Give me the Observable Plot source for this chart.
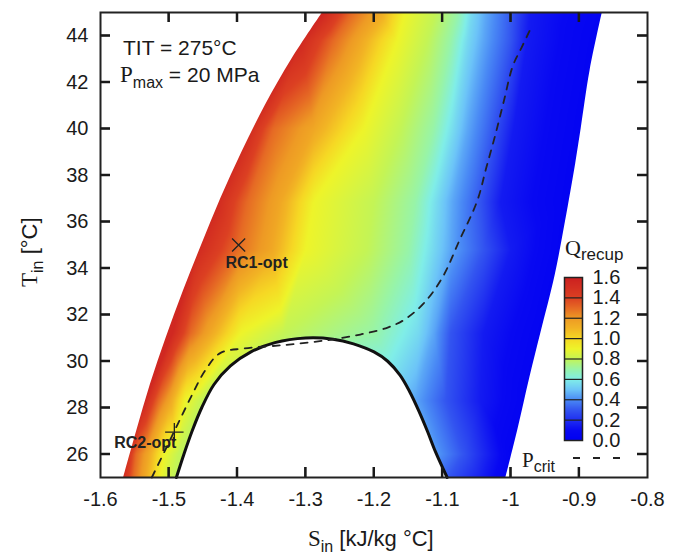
<!DOCTYPE html>
<html><head><meta charset="utf-8">
<script src="https://cdn.jsdelivr.net/npm/d3@7"></script>
<script src="https://cdn.jsdelivr.net/npm/@observablehq/plot@0.6"></script>
<style>
body{margin:0;background:#fff}
#wrap{position:relative;width:688px;height:554px;font-family:"Liberation Sans",Arial,sans-serif}
#wrap svg{position:absolute}
</style>
</head><body><div id="wrap"></div>
<script>
// ---- axes
const S_LO = -1.6, S_HI = -0.8, T_LO = 25, T_HI = 45;
const xTickLabels = [-1.6, -1.5, -1.4, -1.3, -1.2, -1.1, -1.0, -0.9, -0.8];
const xTickMarks = [-1.5, -1.4, -1.3, -1.2, -1.1, -1.0, -0.9];
const yTicks = [26, 28, 30, 32, 34, 36, 38, 40, 42, 44];

// ---- colour scale (Q_recup)
const cDomain = [0, 0.1, 0.2, 0.3, 0.4, 0.5, 0.6, 0.7, 0.8, 0.9, 1.0, 1.1, 1.2, 1.3, 1.4, 1.6];
const cRange = ["#0000f2", "#0808f2", "#1f2ef0", "#3355f0", "#4a8af5", "#6cc4f8", "#80eee8", "#98f4a8",
                "#c4f456", "#eef42a", "#f6d824", "#f2b424", "#ee9a24", "#e66a24", "#dc4022", "#cc2020"];
const legendLevels = [0, 0.2, 0.4, 0.6, 0.8, 1.0, 1.2, 1.4, 1.6];

// ---- Q field, read along rows of constant T
const qLevels = [1.55, 1.3, 1.15, 0.9, 0.8, 0.7, 0.55, 0.45, 0.3, 0.15, 0.05];
const rowT = [25, 26, 28.3, 31.2, 34.8, 36.85, 40, 43.8, 45];
const rowS = [
  [-1.568, -1.552, -1.535, -1.512, -1.494, null, null, null, -1.09, -1.04, -1.007],
  [-1.563, -1.548, -1.53, -1.507, -1.486, null, null, -1.115, -1.07, -1.03, -1.0],
  [-1.535, -1.515, -1.498, -1.476, -1.452, null, null, -1.14, -1.095, -1.045, -0.978],
  [-1.495, -1.468, -1.44, -1.395, -1.332, -1.20, -1.135, -1.113, -1.088, -1.04, -0.956],
  [-1.461, -1.40, -1.35, -1.30, -1.21, -1.15, -1.113, -1.088, -1.04, -1.0, -0.927],
  [-1.432, -1.385, -1.337, -1.288, -1.20, -1.14, -1.107, -1.085, -1.045, -1.015, -0.92],
  [-1.385, -1.347, -1.288, -1.215, -1.161, -1.113, -1.083, -1.063, -1.025, -0.996, -0.902],
  [-1.307, -1.259, -1.22, -1.166, -1.122, -1.088, -1.063, -1.04, -1.0, -0.976, -0.879],
  [-1.272, -1.232, -1.192, -1.155, -1.11, -1.078, -1.057, -1.036, -0.998, -0.972, -0.866]
];

// ---- region boundaries
const leftT = [25, 27, 29, 31, 33, 35, 37, 39, 41, 43, 45];
const leftS = [-1.566, -1.547, -1.527, -1.504, -1.479, -1.452, -1.424, -1.393, -1.359, -1.320, -1.275];
const rightT = [25, 27, 29.3, 31.2, 33.7, 36, 38.5, 40, 42.5, 45];
const rightS = [-1.007, -0.99, -0.972, -0.956, -0.935, -0.92, -0.905, -0.897, -0.884, -0.866];

// ---- saturation dome
const domeS = [-1.489, -1.478, -1.466, -1.452, -1.434, -1.41, -1.38, -1.345, -1.30, -1.26, -1.23, -1.20, -1.18, -1.162, -1.148, -1.135, -1.122, -1.11, -1.093];
const domeT = [25, 26, 27, 28, 29, 29.8, 30.4, 30.8, 31.0, 30.95, 30.75, 30.4, 30.0, 29.4, 28.7, 27.9, 27.0, 26.1, 25];

// ---- P_crit (dashed)
const pcS = [-1.525, -1.505, -1.487, -1.467, -1.447, -1.425, -1.39, -1.33, -1.27, -1.22, -1.18, -1.155, -1.127, -1.10, -1.075, -1.049, -1.036, -1.022, -1.01, -0.997, -0.984, -0.971];
const pcT = [25, 26.2, 27.3, 28.5, 29.6, 30.35, 30.55, 30.7, 30.9, 31.15, 31.45, 31.8, 32.5, 33.6, 35.2, 36.9, 38.3, 39.8, 41.2, 42.7, 43.5, 44.3];

// ---- optimum points
const rcNames = ["RC1-opt", "RC2-opt"];
const rcS = [-1.398, -1.492];
const rcT = [35.0, 26.95];

// ---------- build tables
const field = [];
rowT.forEach((t, i) => rowS[i].forEach((s, j) => { if (s !== null) field.push({S: s, T: t, Q: qLevels[j]}); }));
const leftB = leftT.map((t, i) => ({T: t, S: leftS[i]}));
const rightB = rightT.map((t, i) => ({T: t, S: rightS[i]}));
const dome = domeS.map((s, i) => ({S: s, T: domeT[i]}));
const pcrit = pcS.map((s, i) => ({S: s, T: pcT[i]}));
const rc = rcNames.map((n, i) => ({name: n, S: rcS[i], T: rcT[i]}));

const FONT = '"Liberation Sans", Arial, sans-serif';
const SERIF = '"Liberation Serif", "Times New Roman", serif';
const color = {type: "linear", domain: cDomain, range: cRange, interpolate: "rgb", clamp: true};
const fmt = d => String(+d.toFixed(1));

const W = 688, H = 554, ML = 100, MR = 41, MT = 12, MB = 77, TICK = 10;
const FW = W - ML - MR, FH = H - MT - MB;
const tk = {stroke: "#1a1a1a", strokeWidth: 2};
const base = {
  width: W, height: H,
  marginLeft: ML, marginRight: MR, marginTop: MT, marginBottom: MB,
  x: {domain: [S_LO, S_HI], axis: null},
  y: {domain: [T_LO, T_HI], axis: null}
};

// field layer
const chart = Plot.plot({
  ...base,
  color,
  style: {fontFamily: FONT, fontSize: "20px", color: "#1a1a1a", background: "#fff"},
  marks: [
    Plot.raster(field, {x: "S", y: "T", fill: "Q", interpolate: "barycentric"}),
    Plot.areaX(leftB, {y: "T", x1: () => S_LO, x2: "S", fill: "white", curve: "catmull-rom"}),
    Plot.areaX(rightB, {y: "T", x1: "S", x2: () => S_HI, fill: "white", curve: "catmull-rom"}),
    Plot.areaY(dome, {x: "S", y1: () => T_LO, y2: "T", fill: "white", curve: "catmull-rom"}),
    Plot.line(dome, {x: "S", y: "T", stroke: "#111", strokeWidth: 3, curve: "catmull-rom"}),
    Plot.line(pcrit, {x: "S", y: "T", stroke: "#222", strokeWidth: 1.8, strokeDasharray: "7,7", curve: "catmull-rom"}),
    Plot.dot([rc[0]], {x: "S", y: "T", symbol: "times", r: 6, stroke: "#222", strokeWidth: 1.3}),
    Plot.dot([rc[1]], {x: "S", y: "T", symbol: "plus", r: 6, stroke: "#222", strokeWidth: 1.3}),
    Plot.text([rc[0]], {x: "S", y: "T", text: "name", dx: 18, dy: 18, fontSize: 16, fontWeight: "bold", fill: "#222"}),
    Plot.text([rc[1]], {x: "S", y: "T", text: "name", dx: -29, dy: 11, fontSize: 16, fontWeight: "bold", fill: "#222"})
  ]
});

// axes layer (on top)
const axes = Plot.plot({
  ...base,
  style: {fontFamily: FONT, fontSize: "20px", color: "#1a1a1a", background: "transparent"},
  marks: [
    Plot.ruleX(xTickMarks, {insetTop: FH - TICK, ...tk}),
    Plot.ruleX(xTickMarks, {insetBottom: FH - TICK, ...tk}),
    Plot.ruleY(yTicks, {insetRight: FW - TICK, ...tk}),
    Plot.ruleY(yTicks, {insetLeft: FW - TICK, ...tk}),
    Plot.axisX(xTickLabels, {anchor: "bottom", tickSize: 0, tickPadding: 14, tickFormat: fmt, label: null}),
    Plot.axisY(yTicks, {anchor: "left", tickSize: 0, tickPadding: 12, label: null}),
    Plot.frame({stroke: "#222", strokeWidth: 2})
  ]
});

const legend = Plot.plot({
  width: 110, height: 200,
  marginLeft: 20, marginRight: 72, marginTop: 20, marginBottom: 17,
  x: {domain: [0, 1], axis: null},
  y: {domain: [0, 1.6], axis: null},
  color,
  style: {fontFamily: FONT, fontSize: "20px", color: "#1a1a1a", background: "transparent", overflow: "visible"},
  marks: [
    Plot.raster({x1: 0, x2: 1, y1: 0, y2: 1.6, fill: (x, y) => y}),
    Plot.ruleY(legendLevels.slice(1, -1), {stroke: "#222", strokeWidth: 1.2}),
    Plot.frame({stroke: "#222", strokeWidth: 1.5}),
    Plot.axisY(legendLevels, {anchor: "right", tickSize: 0, tickPadding: 10, tickFormat: d => d.toFixed(1), label: null})
  ]
});

const wrap = document.getElementById("wrap");
for (const el of [chart, axes]) { el.style.left = "0px"; el.style.top = "0px"; wrap.appendChild(el); }
legend.style.left = "544px"; legend.style.top = "257px";
wrap.appendChild(legend);

// ---------- inward tick marks placed through Plot's own scales
const svg = d3.select(axes);
const sx = axes.scale("x"), sy = axes.scale("y");
const tg = svg.append("g").attr("stroke", "#1a1a1a").attr("stroke-width", 2);
xTickMarks.forEach(v => {
  const px = sx.apply(v);
  tg.append("line").attr("x1", px).attr("x2", px).attr("y1", MT).attr("y2", MT + TICK);
  tg.append("line").attr("x1", px).attr("x2", px).attr("y1", H - MB - TICK).attr("y2", H - MB);
});
yTicks.forEach(v => {
  const py = sy.apply(v);
  tg.append("line").attr("x1", ML).attr("x2", ML + TICK).attr("y1", py).attr("y2", py);
  tg.append("line").attr("x1", W - MR - TICK).attr("x2", W - MR).attr("y1", py).attr("y2", py);
});

// ---------- text annotations with subscripts
function sub(g, x, y, parts, transform) {
  const t = g.append("text").attr("x", x).attr("y", y).attr("fill", "#1a1a1a").attr("text-anchor", "start");
  if (transform) t.attr("transform", transform).attr("x", 0).attr("y", 0);
  parts.forEach(p => {
    const ts = t.append("tspan").text(p.t).attr("font-size", p.size).attr("font-family", p.serif ? SERIF : FONT);
    if (p.dy) ts.attr("dy", p.dy);
  });
  return t;
}
sub(svg, 123, 55, [{t: "TIT = 275°C", size: 21}]);
sub(svg, 120, 82, [{t: "P", size: 23, serif: true}, {t: "max", size: 16, dy: 6}, {t: " = 20 MPa", size: 21, dy: -6}]);
sub(svg, 0, 0, [{t: "T", size: 23, serif: true}, {t: "in", size: 16, dy: 6}, {t: " [°C]", size: 22, dy: -6}], "translate(37,287) rotate(-90)");
sub(svg, 308, 546, [{t: "S", size: 23, serif: true}, {t: "in", size: 16, dy: 6}, {t: " [kJ/kg °C]", size: 22, dy: -6}]);
sub(svg, 565, 255, [{t: "Q", size: 22, serif: true}, {t: "recup", size: 17, dy: 5}]);
sub(svg, 522, 467, [{t: "P", size: 21, serif: true}, {t: "crit", size: 16, dy: 5}]);
svg.append("line").attr("x1", 573).attr("x2", 624).attr("y1", 458).attr("y2", 458)
  .attr("stroke", "#222").attr("stroke-width", 1.8).attr("stroke-dasharray", "7,13");
</script>
</body></html>
